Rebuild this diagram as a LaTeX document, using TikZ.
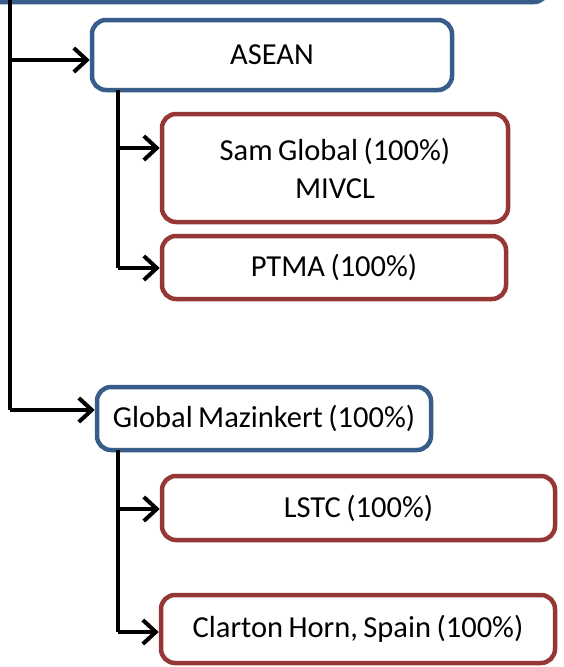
\documentclass[tikz,border=0pt]{standalone}
\usepackage{fontspec}
\setmainfont{Carlito}
\usetikzlibrary{arrows.meta}
\definecolor{bluebd}{RGB}{56,93,138}
\definecolor{redbd}{RGB}{149,55,53}
\newcommand\myboxfont{\fontsize{30.5}{38}\selectfont\spaceskip=0.18em plus 0.05em\relax}
\tikzset{
  box/.style={draw, line width=4.5pt, rounded corners=14pt, fill=white, inner sep=0pt,
    font=\myboxfont, align=center, text=black},
  bluebox/.style={box, draw=bluebd},
  redbox/.style={box, draw=redbd},
  conn/.style={line width=4pt, black},
  arr/.style={conn, -{Straight Barb[length=13pt, width=24pt, line width=4pt]}}
}
\begin{document}
\begin{tikzpicture}[x=1pt,y=-1pt]
\useasboundingbox (0,0) rectangle (564,667);
\clip (0,0) rectangle (564,667);
\fill[white] (0,0) rectangle (564,667);
% top box (cut off)
\node[bluebox, minimum width=600pt, minimum height=60pt] (top) at (248,-28) {};
% boxes
\node[bluebox, minimum width=360pt, minimum height=70pt] (asean) at (272,55) {ASEAN};
\node[redbox, minimum width=346pt, minimum height=108pt] (sam) at (335,168) {Sam Global (100\%)\\MIVCL};
\node[redbox, minimum width=344pt, minimum height=63pt] (ptma) at (334,267.5) {PTMA (100\%)};
\node[bluebox, minimum width=334pt, minimum height=63pt] (gm) at (264,418.5) {Global Mazinkert (100\%)};
\node[redbox, minimum width=393pt, minimum height=64pt] (lstc) at (358.5,508) {LSTC (100\%)};
\node[redbox, minimum width=394pt, minimum height=68pt] (clar) at (358,629) {Clarton Horn, Spain (100\%)};
% connectors
\coordinate (t0) at (10,0);
\coordinate (j1) at (10,60);
\coordinate (j2) at (10,410);
\draw[conn] (t0) -- (j2);
\draw[arr] (j1) -- (j1 -| asean.west);
\draw[arr] (j2) -- (j2 -| gm.west);
\coordinate (a0) at (118,90);
\coordinate (a1) at (118,148);
\coordinate (a2) at (118,268);
\draw[conn] (a0) -- (a2);
\draw[arr] (a1) -- (a1 -| sam.west);
\draw[arr] (a2) -- (a2 -| ptma.west);
\coordinate (g0) at (118,450);
\coordinate (g1) at (118,509);
\coordinate (g2) at (118,632);
\draw[conn] (g0) -- (g2);
\draw[arr] (g1) -- (g1 -| lstc.west);
\draw[arr] (g2) -- (g2 -| clar.west);
\end{tikzpicture}
\end{document}
